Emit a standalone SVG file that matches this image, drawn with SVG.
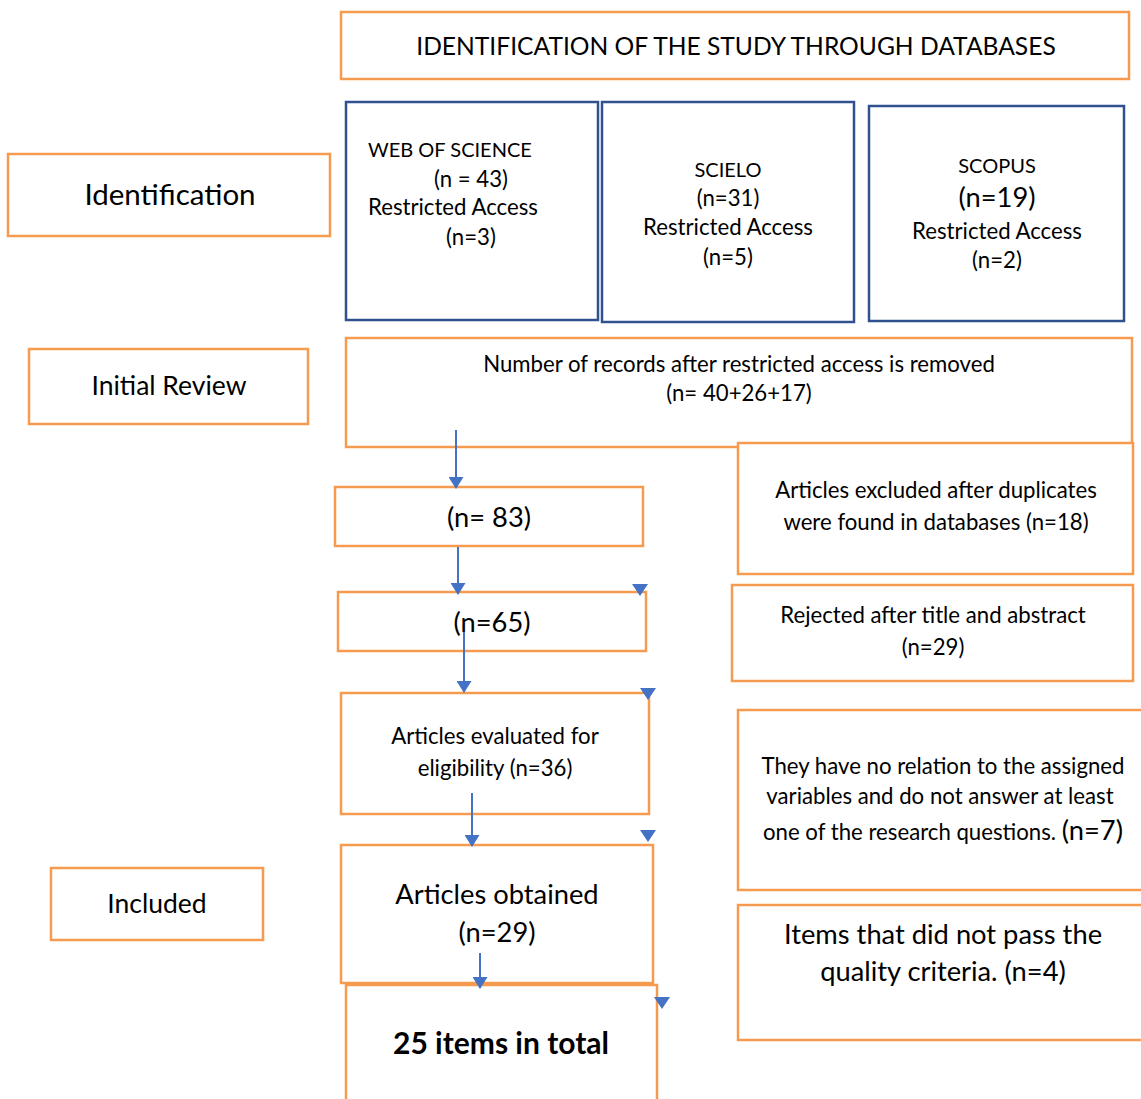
<svg xmlns="http://www.w3.org/2000/svg" width="1141" height="1099" viewBox="0 0 1141 1099">
<style>
.o{fill:#fff;stroke:#F59A4E;stroke-width:2.5}
.b{fill:#fff;stroke:#2F528F;stroke-width:2.5}
text{font-family:Lato,"Open Sans","Liberation Sans",sans-serif;fill:#000;text-anchor:middle}
.c20{font-size:20px}
.s22{font-size:22.2px}
.s27{font-size:27.3px}
.ln{stroke:#4472C4;stroke-width:2;fill:none}
.ah{fill:#4472C4}
</style>
<defs>
<marker id="arr" markerWidth="12" markerHeight="15" refX="11" refY="7.5" orient="auto" markerUnits="userSpaceOnUse" viewBox="0 0 12 15">
<path d="M0,0 L12,7.5 L0,15 Z" fill="#4472C4"/>
</marker>
</defs>
<rect width="1141" height="1099" fill="#fff"/>

<g id="title"><rect class="o" x="341" y="12" width="788" height="67"/><text x="736" y="55" style="font-size:24.6px">IDENTIFICATION OF THE STUDY THROUGH DATABASES</text></g>

<g id="identification"><rect class="o" x="8" y="154" width="322" height="82"/><text style="font-size:29.5px" x="170" y="205">Identification</text></g>
<g id="initial-review"><rect class="o" x="29" y="349" width="279" height="75"/><text style="font-size:26.5px" x="169" y="395">Initial Review</text></g>
<g id="included"><rect class="o" x="51" y="868" width="212" height="72"/><text style="font-size:26.5px" x="157" y="913">Included</text></g>

<g id="wos"><rect class="b" x="346" y="102" width="252" height="218"/>
<text class="c20" x="368" y="157" style="text-anchor:start">WEB OF SCIENCE</text>
<text class="s22" x="471" y="187">(n = 43)</text>
<text class="s22" x="368" y="215" style="text-anchor:start">Restricted Access</text>
<text class="s22" x="471" y="245">(n=3)</text></g>

<g id="scielo"><rect class="b" x="602" y="102" width="252" height="220"/>
<text class="c20" x="728" y="177">SCIELO</text>
<text class="s22" x="728" y="206">(n=31)</text>
<text class="s22" x="728" y="235">Restricted Access</text>
<text class="s22" x="728" y="265">(n=5)</text></g>

<g id="scopus"><rect class="b" x="869" y="106" width="255" height="215"/>
<text class="c20" x="997" y="173">SCOPUS</text>
<text class="s27" x="997" y="207">(n=19)</text>
<text class="s22" x="997" y="239">Restricted Access</text>
<text class="s22" x="997" y="268">(n=2)</text></g>

<g id="records"><rect class="o" x="346" y="338" width="786" height="109"/>
<text class="s22" x="739" y="372">Number of records after restricted access is removed</text>
<text class="s22" x="739" y="401">(n= 40+26+17)</text></g>

<g id="duplicates"><rect class="o" x="738" y="443" width="395" height="131"/>
<text class="s22" x="936" y="498">Articles excluded after duplicates</text>
<text class="s22" x="936" y="530">were found in databases (n=18)</text></g>

<g id="rejected"><rect class="o" x="732" y="585" width="401" height="96"/>
<text class="s22" x="933" y="623">Rejected after title and abstract</text>
<text class="s22" x="933" y="655">(n=29)</text></g>

<g id="norelation"><rect class="o" x="738" y="710" width="410" height="180"/>
<text class="s22" x="943" y="774">They have no relation to the assigned</text>
<text class="s22" x="940" y="804">variables and do not answer at least</text>
<text class="s22" x="943" y="840">one of the research questions. <tspan class="s27">(n=7)</tspan></text></g>

<g id="quality"><rect class="o" x="738" y="905" width="410" height="135"/>
<text class="s27" x="943" y="944">Items that did not pass the</text>
<text class="s27" x="943" y="981">quality criteria. (n=4)</text></g>

<g id="n83"><rect class="o" x="335" y="487" width="308" height="59"/><text class="s27" x="489" y="527">(n= 83)</text></g>
<g id="n65"><rect class="o" x="338" y="592" width="308" height="59"/><text class="s27" x="492" y="632">(n=65)</text></g>
<g id="eligibility"><rect class="o" x="341" y="693" width="308" height="121"/>
<text class="s22" x="495" y="744">Articles evaluated for</text>
<text class="s22" x="495" y="776">eligibility (n=36)</text></g>
<g id="obtained"><rect class="o" x="341" y="845" width="312" height="138"/>
<text class="s27" x="497" y="904">Articles obtained</text>
<text class="s27" x="497" y="942">(n=29)</text></g>
<g id="total"><rect class="o" x="346" y="985" width="311" height="130"/>
<text x="501" y="1054" style="font-size:30px;font-weight:bold">25 items in total</text></g>

<g id="connectors">
<line class="ln" x1="456" y1="430" x2="456" y2="488" marker-end="url(#arr)"/>
<line class="ln" x1="458" y1="547" x2="458" y2="594" marker-end="url(#arr)"/>
<line class="ln" x1="464" y1="632" x2="464" y2="692" marker-end="url(#arr)"/>
<line class="ln" x1="472" y1="793" x2="472" y2="846" marker-end="url(#arr)"/>
<line class="ln" x1="480" y1="953" x2="480" y2="988" marker-end="url(#arr)"/>
<path class="ah" d="M632,584 L648,584 L640,596 Z"/>
<path class="ah" d="M640,688 L656,688 L648,700 Z"/>
<path class="ah" d="M640,830 L656,830 L648,842 Z"/>
<path class="ah" d="M654,997 L670,997 L662,1009 Z"/>
</g>
</svg>
